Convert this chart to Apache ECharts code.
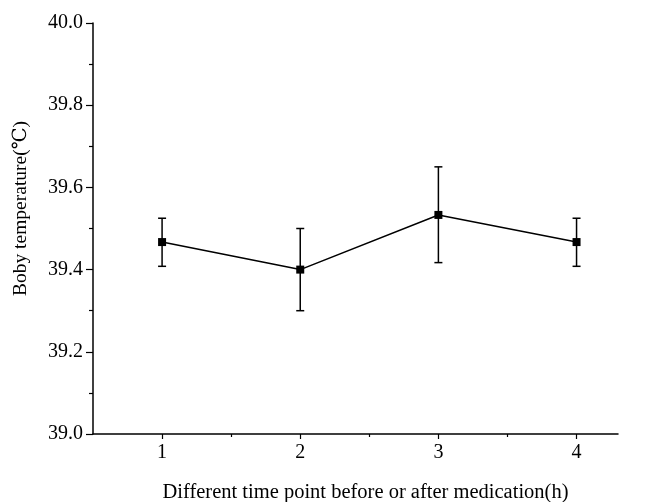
<!DOCTYPE html>
<html>
<head>
<meta charset="utf-8">
<script src="https://cdn.jsdelivr.net/npm/echarts@6/dist/echarts.min.js"></script>
<style>
  html, body { margin: 0; padding: 0; background: #fff; }
  #chart { width: 651px; height: 502px; }
</style>
</head>
<body>
<div id="chart"></div>
<script>
// time points (h) and body temperature (mean, lower, upper of error bar)
const timePoints = [1, 2, 3, 4];
const meanTemp = [39.467, 39.400, 39.533, 39.467];
const lowTemp = [39.408, 39.300, 39.417, 39.408];
const highTemp = [39.525, 39.500, 39.650, 39.525];

const font = '"Liberation Serif", "DejaVu Serif", serif';

const lineData = timePoints.map((t, i) => [t, meanTemp[i]]);
const errData = timePoints.map((t, i) => [t, lowTemp[i], highTemp[i]]);

const chart = echarts.init(document.getElementById('chart'));

const option = {
  backgroundColor: '#fff',
  animation: false,
  grid: { left: 93, right: 33, top: 23, bottom: 68, containLabel: false, outerBoundsMode: 'none' },
  xAxis: [
    {
      type: 'value',
      min: 0.5,
      max: 4.3,
      interval: 0.5,
      name: 'Different time point before or after medication(h)',
      nameLocation: 'middle',
      nameGap: 48,
      nameTextStyle: { fontFamily: font, fontSize: 20.5, color: '#000', padding: [0, 0, 0, 20] },
      axisLine: { lineStyle: { color: '#000', width: 1.5 } },
      axisTick: { show: true, length: 5, customValues: [1, 2, 3, 4], lineStyle: { color: '#000', width: 1.2 } },
      axisLabel: {
        customValues: [1, 2, 3, 4],
        fontFamily: font, fontSize: 20, color: '#000', margin: 9,
        formatter: v => String(v)
      },
      splitLine: { show: false }
    },
    {
      // minor ticks between the time points
      type: 'value',
      position: 'bottom',
      min: 0.5,
      max: 4.3,
      axisLine: { show: false },
      axisTick: { show: true, length: 3, customValues: [1.5, 2.5, 3.5], lineStyle: { color: '#000', width: 1.2 } },
      axisLabel: { show: false },
      splitLine: { show: false }
    }
  ],
  yAxis: {
    type: 'value',
    min: 39.0,
    max: 40.0,
    interval: 0.2,
    name: 'Boby temperature(℃)',
    nameLocation: 'middle',
    nameGap: 62,
    nameTextStyle: { fontFamily: font, fontSize: 19.5, color: '#000', padding: [0, 0, 0, 40] },
    axisLine: { show: true, lineStyle: { color: '#000', width: 1.5 } },
    axisTick: { show: true, length: 7, lineStyle: { color: '#000', width: 1.2 } },
    minorTick: { show: true, splitNumber: 2, length: 4, lineStyle: { color: '#000', width: 1.2 } },
    axisLabel: {
      fontFamily: font, fontSize: 20, color: '#000', margin: 10,
      formatter: v => v.toFixed(1)
    },
    splitLine: { show: false }
  },
  series: [
    {
      type: 'custom',
      data: errData,
      z: 1,
      renderItem: (params, api) => {
        const x = api.value(0);
        const lo = api.coord([x, api.value(1)]);
        const hi = api.coord([x, api.value(2)]);
        const hw = 4;
        const style = { stroke: '#000', lineWidth: 1.5 };
        return {
          type: 'group',
          children: [
            { type: 'line', shape: { x1: lo[0], y1: lo[1], x2: hi[0], y2: hi[1] }, style },
            { type: 'line', shape: { x1: hi[0] - hw, y1: hi[1], x2: hi[0] + hw, y2: hi[1] }, style },
            { type: 'line', shape: { x1: lo[0] - hw, y1: lo[1], x2: lo[0] + hw, y2: lo[1] }, style }
          ]
        };
      }
    },
    {
      type: 'line',
      data: lineData,
      z: 2,
      symbol: 'rect',
      symbolSize: 8,
      lineStyle: { color: '#000', width: 1.5 },
      itemStyle: { color: '#000' }
    }
  ]
};

chart.setOption(option);
</script>
</body>
</html>
